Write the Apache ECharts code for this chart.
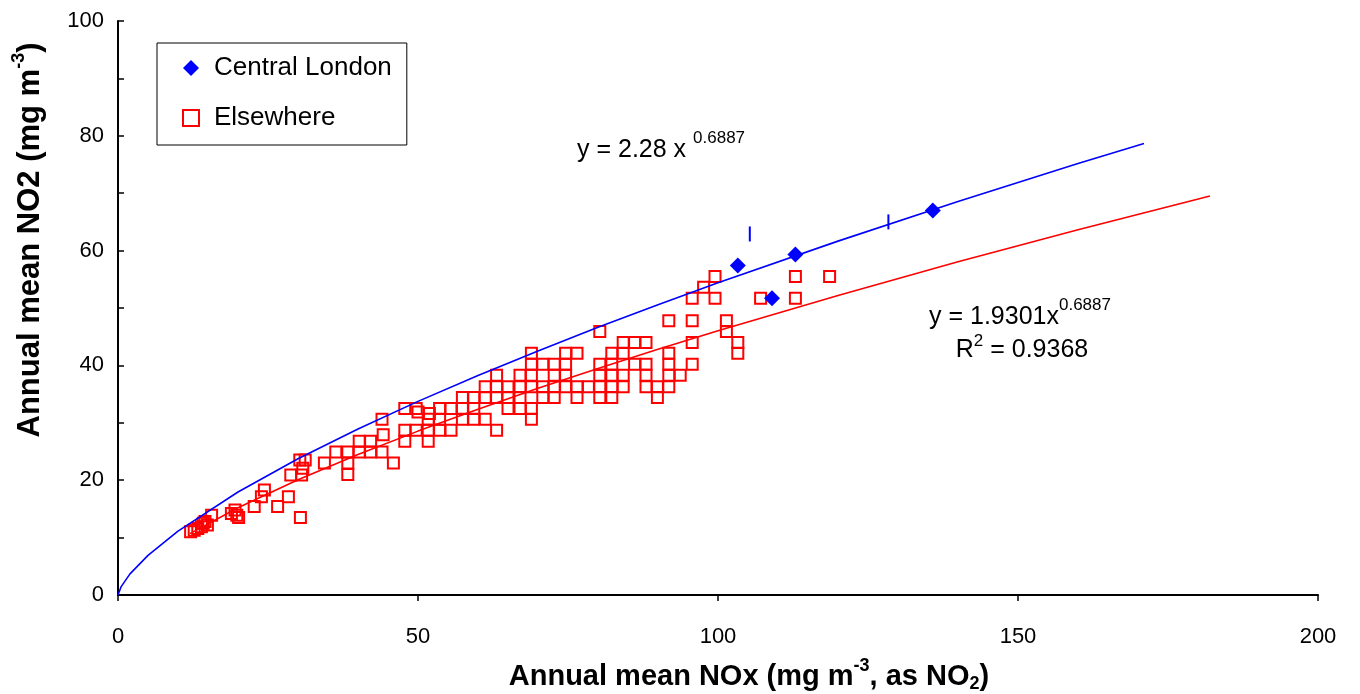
<!DOCTYPE html>
<html>
<head>
<meta charset="utf-8">
<script src="https://cdn.jsdelivr.net/npm/echarts@6.0.0/dist/echarts.min.js"></script>
<style>html,body{margin:0;padding:0;background:#fff}#c{width:1360px;height:694px}</style>
</head>
<body>
<div id="c"></div>
<script>
const FONT = '"Liberation Sans", Arial, Helvetica, sans-serif';

// Axis scales
const xMin = 0, xMax = 200, xStep = 50;
const yMin = 0, yMax = 100, yStep = 20;

// Central London sites (NOx, NO2)
const londonNOx = [103.3, 112.9, 109.0, 135.8];
const londonNO2 = [57.4, 59.3, 51.7, 67.0];

// Short blue vertical marks on the London trend
const markNOx = [105.3, 128.4];
const markNO2 = [62.9, 65.0];

// Elsewhere sites (NOx, NO2)
const elsewhereNOx = [
  12.1,12.7,13.3,13.9,14.2,14.5,14.9,15.6,
  18.9,19.5,19.8,20.1,
  22.7,23.9,24.4,26.6,28.4,30.4,
  28.8,30.6,30.8,30.3,31.2,
  44.2,50.0,51.9,
  38.3,
  34.4,38.3,45.9,
  36.3,38.3,40.2,42.1,44.0,
  40.2,42.1,47.8,51.7,
  47.8,49.7,51.7,53.6,55.5,63.1,
  44.0,51.7,53.6,57.4,59.3,61.2,68.9,
  47.8,49.7,53.6,55.5,57.4,59.3,65.0,67.0,68.9,
  57.4,59.3,61.2,63.1,65.0,67.0,70.8,72.7,76.5,80.3,82.3,89.9,
  61.2,63.1,65.0,67.0,68.9,70.8,72.7,74.6,76.5,78.4,80.3,82.3,84.2,88.0,89.9,91.8,
  63.1,67.0,68.9,72.7,74.6,80.3,82.3,84.2,88.0,91.8,93.7,
  68.9,70.8,72.7,74.6,80.3,82.3,86.1,88.0,91.8,95.7,
  68.9,74.6,76.5,82.3,84.2,91.8,103.3,
  84.2,86.1,88.0,95.7,103.3,
  80.3,101.4,
  91.8,95.7,101.4,
  95.7,99.5,107.1,112.9,
  97.6,
  99.5,112.9,118.6
];
const elsewhereNO2 = [
  11.0,11.3,11.6,11.9,12.5,12.8,12.2,13.9,
  14.2,14.8,13.9,13.5,
  15.4,17.1,18.3,15.4,17.1,13.5,
  20.9,20.9,22.1,23.5,23.5,
  27.9,31.9,31.6,
  21.0,
  23.0,23.0,23.0,
  24.9,24.9,24.9,24.9,24.9,
  26.8,26.8,26.8,26.8,
  28.7,28.7,28.7,28.7,28.7,28.7,
  30.6,30.6,30.6,30.6,30.6,30.6,30.6,
  32.5,32.5,32.5,32.5,32.5,32.5,32.5,32.5,32.5,
  34.4,34.4,34.4,34.4,34.4,34.4,34.4,34.4,34.4,34.4,34.4,34.4,
  36.3,36.3,36.3,36.3,36.3,36.3,36.3,36.3,36.3,36.3,36.3,36.3,36.3,36.3,36.3,36.3,
  38.3,38.3,38.3,38.3,38.3,38.3,38.3,38.3,38.3,38.3,38.3,
  40.2,40.2,40.2,40.2,40.2,40.2,40.2,40.2,40.2,40.2,
  42.1,42.1,42.1,42.1,42.1,42.1,42.1,
  44.0,44.0,44.0,44.0,44.0,
  45.9,45.9,
  47.8,47.8,47.8,
  51.7,51.7,51.7,51.7,
  53.6,
  55.5,55.5,55.5
];

// Fitted power trend lines
const londonTrendNOx = [0, 0.5, 2, 5, 10, 20, 30, 40, 50, 60, 70, 80, 90, 100, 120, 140, 160, 171];
const londonTrendNO2 = [0, 1.41, 3.68, 6.91, 11.13, 17.95, 23.73, 28.93, 33.73, 38.24, 42.52, 46.63, 50.57, 54.38, 61.65, 68.56, 75.16, 78.66];
const elseTrendNOx = [12, 20, 30, 40, 50, 60, 70, 80, 90, 100, 120, 140, 160, 182];
const elseTrendNO2 = [10.69, 15.19, 20.08, 24.49, 28.55, 32.38, 36.00, 39.47, 42.81, 46.03, 52.19, 58.04, 63.62, 69.52];

const zip = (a, b) => a.map((v, i) => [v, b[i]]);

const chart = echarts.init(document.getElementById('c'), null, {renderer: 'canvas'});

function nameRich(size) {
  return {
    b: {fontSize: size, fontWeight: 'bold', fontFamily: FONT, color: '#000'},
    sp: {fontSize: 18, fontWeight: 'bold', fontFamily: FONT, color: '#000', padding: [0, 0, 22, 0]},
    sb: {fontSize: 18, fontWeight: 'bold', fontFamily: FONT, color: '#000', padding: [14, 0, 0, 0]}
  };
}

const option = {
  animation: false,
  backgroundColor: '#ffffff',
  grid: {left: 118, right: 42, top: 21, bottom: 99, containLabel: false, outerBoundsMode: 'none'},
  legend: {
    data: [
      {name: 'Central London', icon: 'diamond'},
      {name: 'Elsewhere', icon: 'rect'}
    ],
    orient: 'vertical',
    left: 157, top: 43,
    padding: [12, 15, 14, 25],
    itemWidth: 16, itemHeight: 16, itemGap: 24,
    borderColor: '#000', borderWidth: 1,
    backgroundColor: '#fff',
    textStyle: {fontSize: 26, fontFamily: FONT, color: '#000', padding: [0, 0, 0, 10]}
  },
  xAxis: {
    type: 'value', min: xMin, max: xMax, interval: xStep,
    name: '{b|Annual mean NOx (mg m}{sp|-3}{b|, as NO}{sb|2}{b|)}',
    nameLocation: 'middle', nameGap: 62,
    nameTextStyle: {rich: nameRich(29), padding: [0, 0, 0, 62]},
    axisLine: {show: true, onZero: false, lineStyle: {color: '#000', width: 2}},
    axisTick: {show: true, inside: false, length: 6, lineStyle: {color: '#000', width: 1.5}},
    axisLabel: {fontSize: 22, fontFamily: FONT, color: '#000', margin: 31},
    splitLine: {show: false}
  },
  yAxis: {
    type: 'value', min: yMin, max: yMax, interval: yStep,
    name: '{b|Annual mean NO2 (mg m}{sp|-3}{b|)}',
    nameLocation: 'middle', nameGap: 68,
    nameTextStyle: {rich: nameRich(31), padding: [0, 0, 0, 136]},
    axisLine: {show: true, onZero: false, lineStyle: {color: '#000', width: 2}},
    axisTick: {show: true, inside: true, length: 6, lineStyle: {color: '#000', width: 1.5}},
    minorTick: {show: true, splitNumber: 2, length: 6, lineStyle: {color: '#000', width: 1.5}},
    axisLabel: {fontSize: 22, fontFamily: FONT, color: '#000', margin: 14},
    splitLine: {show: false}
  },
  series: [
    {
      name: 'Elsewhere', type: 'scatter',
      symbol: 'rect', symbolSize: 11,
      itemStyle: {color: 'rgba(255,255,255,0)', borderColor: '#FF0000', borderWidth: 2, opacity: 1},
      data: zip(elsewhereNOx, elsewhereNO2), z: 2
    },
    {
      name: 'London trend', type: 'line', showSymbol: false, symbol: 'none',
      lineStyle: {color: '#0000FF', width: 1.6}, itemStyle: {color: '#0000FF'},
      data: zip(londonTrendNOx, londonTrendNO2), z: 3
    },
    {
      name: 'Elsewhere trend', type: 'line', showSymbol: false, symbol: 'none',
      lineStyle: {color: '#FF0000', width: 1.6}, itemStyle: {color: '#FF0000'},
      data: zip(elseTrendNOx, elseTrendNO2), z: 3
    },
    {
      name: 'Central London', type: 'scatter',
      symbol: 'diamond', symbolSize: 16,
      itemStyle: {color: '#0000FF', opacity: 1},
      data: zip(londonNOx, londonNO2), z: 4
    },
    {
      name: 'marks', type: 'scatter',
      symbol: 'rect', symbolSize: [2, 15],
      itemStyle: {color: '#0000FF', opacity: 1},
      data: zip(markNOx, markNO2), z: 4
    }
  ],
  graphic: [
    {
      type: 'text', x: 577, y: 150, z: 10,
      style: {
        text: '{a|y = 2.28 x }{s|0.6887}',
        verticalAlign: 'middle', align: 'left',
        rich: {
          a: {fontSize: 25, fontFamily: FONT, fill: '#000'},
          s: {fontSize: 17, fontFamily: FONT, fill: '#000', padding: [0, 0, 24, 0]}
        }
      }
    },
    {
      type: 'text', x: 1020, y: 317, z: 10,
      style: {
        text: '{a|y = 1.9301x}{s|0.6887}',
        verticalAlign: 'middle', align: 'center',
        rich: {
          a: {fontSize: 25, fontFamily: FONT, fill: '#000'},
          s: {fontSize: 17, fontFamily: FONT, fill: '#000', padding: [0, 0, 24, 0]}
        }
      }
    },
    {
      type: 'text', x: 1022, y: 350, z: 10,
      style: {
        text: '{a|R}{s|2}{a| = 0.9368}',
        verticalAlign: 'middle', align: 'center',
        rich: {
          a: {fontSize: 25, fontFamily: FONT, fill: '#000'},
          s: {fontSize: 17, fontFamily: FONT, fill: '#000', padding: [0, 0, 18, 0]}
        }
      }
    }
  ]
};

chart.setOption(option);
</script>
</body>
</html>
